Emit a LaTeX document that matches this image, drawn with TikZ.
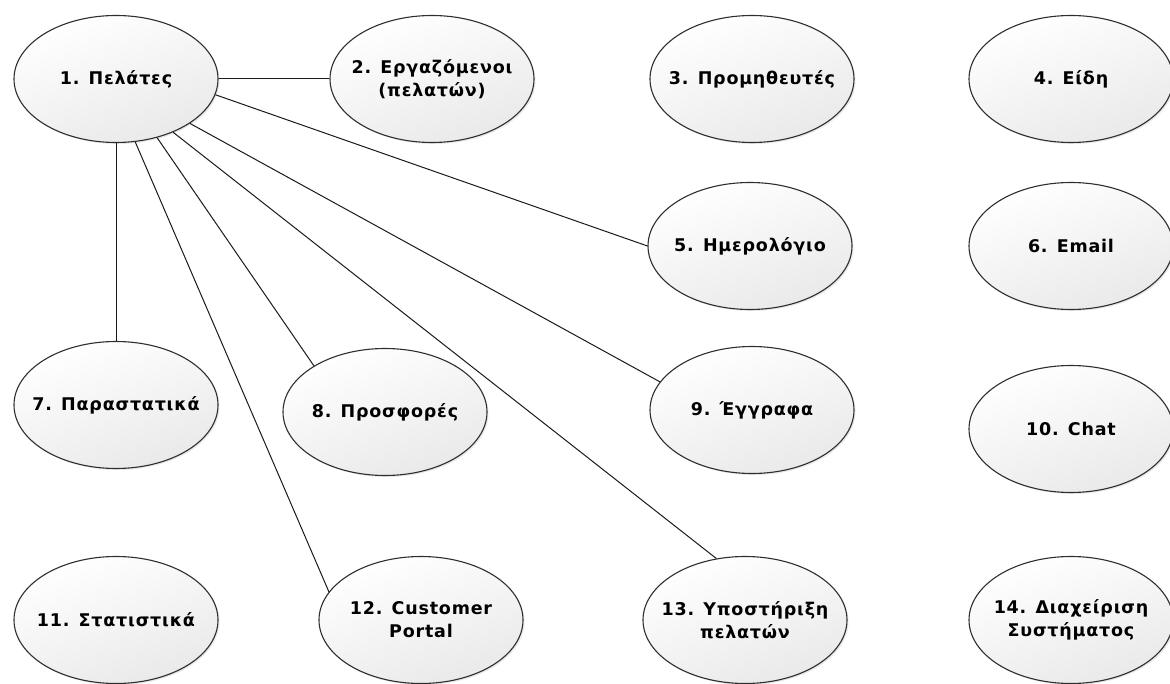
\documentclass[tikz,border=0pt]{standalone}
\usepackage{fontspec}
\setmainfont{DejaVu Sans}[LetterSpace=4.5]
\usepackage{tikz}
\usetikzlibrary{shapes.geometric, shadows}
\definecolor{ucline}{HTML}{1A1A1A}
\definecolor{ucedge}{HTML}{2E2E2E}
\definecolor{ucfill}{HTML}{E9E9E9}

\begin{document}
\begin{tikzpicture}[x=1pt, y=-1pt]
    \tikzstyle{uce} += [ellipse, draw=ucedge, line width=1.1pt, top color=white, bottom color=ucfill,
                        shading angle=20,
                        minimum width=204pt, minimum height=127pt, inner xsep=-28pt, inner ysep=0pt,
                        align=center, font=\fontsize{17.5}{23}\selectfont\bfseries,
                        drop shadow={shadow xshift=1.5pt, shadow yshift=-1.5pt, opacity=0.18}];
    \useasboundingbox (0,0) rectangle (1170,684);
    \node (uc1)  at ( 116,  79) [uce]{1. Πελάτες};
    \node (uc2)  at ( 432,  79) [uce]{2. Εργαζόμενοι\\(πελατών)};
    \node (uc3)  at ( 752,  79) [uce]{3. Προμηθευτές};
    \node (uc4)  at (1071,  79) [uce]{4. Είδη};
    \node (uc5)  at ( 750, 246) [uce]{5. Ημερολόγιο};
    \node (uc6)  at (1071, 246) [uce]{6. Email};
    \node (uc7)  at ( 116, 405) [uce]{7. Παραστατικά};
    \node (uc8)  at ( 385, 412) [uce]{8. Προσφορές};
    \node (uc9)  at ( 752, 410) [uce]{9. Έγγραφα};
    \node (uc10) at (1071, 429) [uce]{10. Chat};
    \node (uc11) at ( 116, 620) [uce]{11. Στατιστικά};
    \node (uc12) at ( 421, 620) [uce]{12. Customer\\Portal};
    \node (uc13) at ( 745, 620) [uce]{13. Υποστήριξη\\πελατών};
    \node (uc14) at (1071, 620) [uce]{14. Διαχείριση\\Συστήματος};

    \begin{scope}[line width=1pt, ucline]
      \draw (uc1.east) -- (uc2.west);
      \draw (uc1.-9)   -- (uc5.west);
      \draw (uc1.-31)  -- (uc9.163);
      \draw (uc1.-43)  -- (uc13.115);
      \draw (uc1.-55)  -- (uc8.147);
      \draw (uc1.-73)  -- (uc12.163);
      \draw (uc1.south) -- (uc7.north);
    \end{scope}
  \end{tikzpicture}
\end{document}
